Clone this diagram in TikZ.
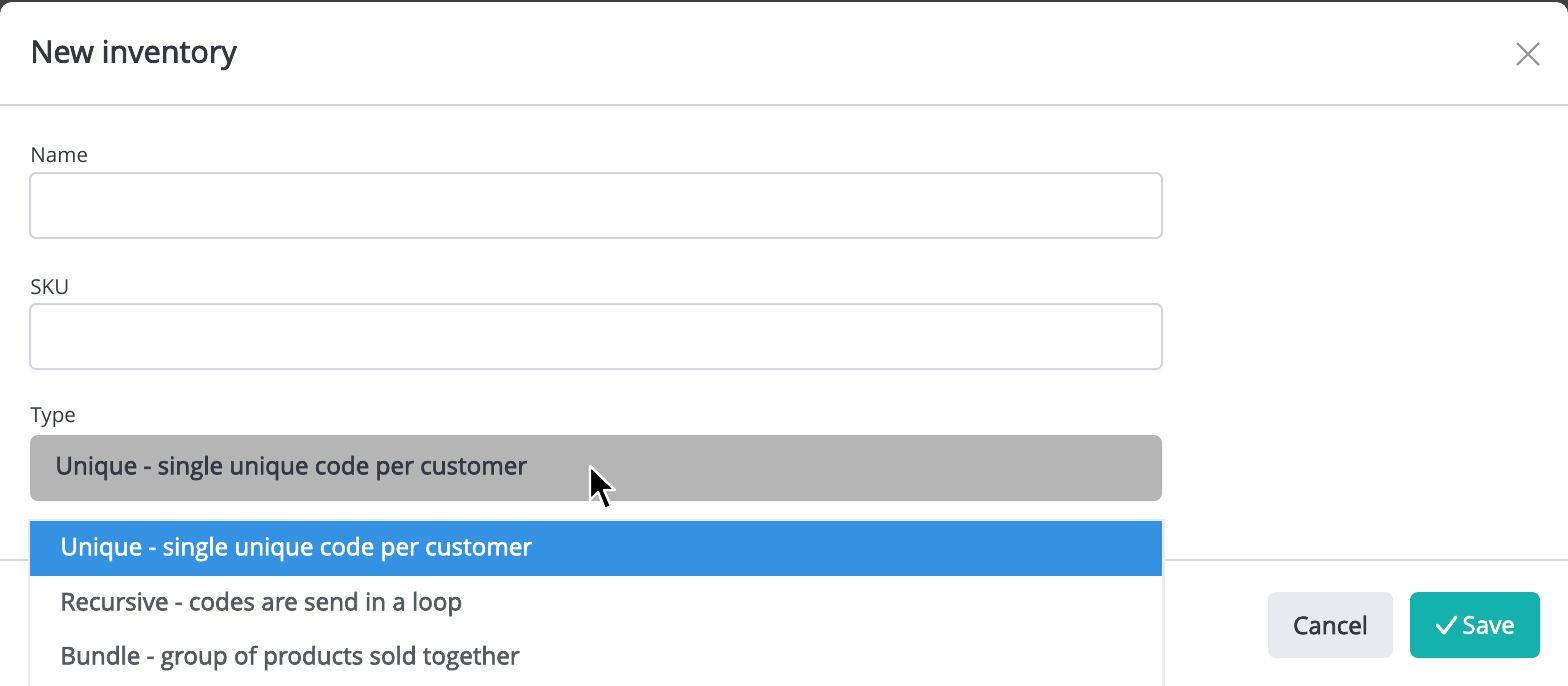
\documentclass[tikz,border=0pt]{standalone}
\usepackage{fontspec}
\setmainfont{Open Sans}
\newfontfamily\medfont{Open Sans}[FakeBold=2.6]
\usetikzlibrary{positioning}
\definecolor{framegray}{HTML}{D2D5DA}
\definecolor{textdark}{HTML}{333840}
\definecolor{textgray}{HTML}{555a60}
\definecolor{selgray}{HTML}{B5B5B5}
\definecolor{selblue}{HTML}{3591E1}
\definecolor{btngray}{HTML}{E9EAEE}
\definecolor{btnteal}{HTML}{14B1AD}
\tikzset{
  field/.style={draw=framegray, line width=1pt, rounded corners=3pt, fill=white},
  lbl/.style={anchor=west, inner sep=0pt, text=textdark, font=\fontsize{10.3}{12}\selectfont},
  item/.style={anchor=west, inner sep=0pt, text=textgray, font=\medfont\fontsize{12.1}{14}\selectfont},
}
\begin{document}
\begin{tikzpicture}[x=0.5pt,y=-0.5pt]
    \useasboundingbox (0,0) rectangle (1568,685);
    % backdrop and modal
    \fill[black!75] (0,0) rectangle (1568,685);
    \fill[white, rounded corners=6pt] (0,2) rectangle (1568,700);
    % header
    \node[lbl, font=\medfont\fontsize{15.3}{18}\selectfont] (title) at (30,55) {New inventory};
    \draw[gray!80, line width=1.2pt] (1517,43) -- (1539,65) (1539,43) -- (1517,65);
    \draw[framegray, line width=1pt] (0,105) -- (1568,105);
    % fields
    \node[lbl] (namelbl) at (30,155) {Name};
    \draw[field] (30,173) rectangle (1162,238);
    \node[lbl] (skulbl) at (30,287) {SKU};
    \draw[field] (30,304) rectangle (1162,369);
    \node[lbl] (typelbl) at (30,418) {Type};
    \fill[selgray, rounded corners=4pt] (30,435) rectangle (1162,501);
    \node[item, text=textdark] (typeval) at (55,468) {Unique - single unique code per customer};
    % footer line
    \draw[framegray, line width=1pt] (0,560) -- (1568,560);
    % buttons
    \fill[btngray, rounded corners=4pt] (1268,592) rectangle (1393,658);
    \node[item, anchor=center, text=textdark] (cancel) at (1330.5,625) {Cancel};
    \fill[btnteal, rounded corners=4pt] (1410,592) rectangle (1540,658);
    \node[item, anchor=west, text=white] (save) at (1462,625) {Save};
    \draw[white, line width=1.6pt, line cap=round, line join=round] (1437,625) -- (1444,633) -- (1456,617);
    % dropdown list
    \fill[black!8] (28,519) rectangle (1165,690);
    \fill[white] (30,521) rectangle (1162,690);
    \fill[selblue] (30,521) rectangle (1162,576);
    \node[item, text=white] (opt1) at (60,549) {Unique - single unique code per customer};
    \node[item] (opt2) at (60,604) {Recursive - codes are send in a loop};
    \node[item] (opt3) at (60,658) {Bundle - group of products sold together};
    % cursor
    \draw[white, fill=black, line width=1.2pt, line join=round]
      (590,466) -- (590,500) -- (598,492) -- (605,509) -- (611,506) -- (604,490) -- (615,490) -- cycle;
\end{tikzpicture}
\end{document}
